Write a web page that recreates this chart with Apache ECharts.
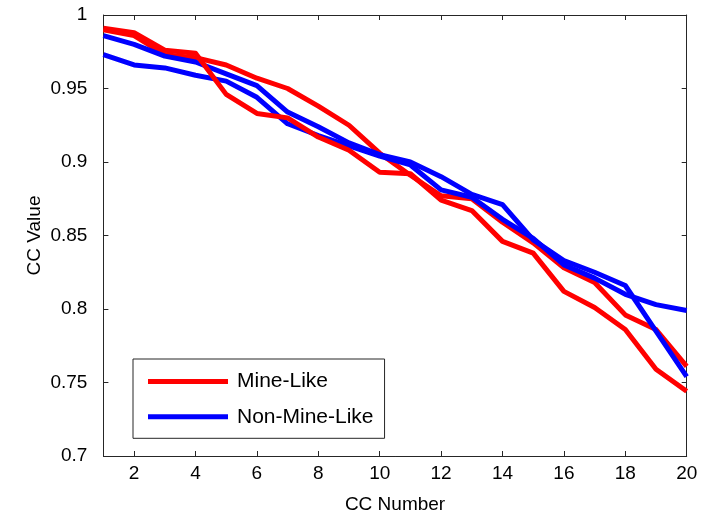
<!DOCTYPE html>
<html>
<head>
<meta charset="utf-8">
<script src="https://cdn.jsdelivr.net/npm/echarts@6/dist/echarts.min.js"></script>
<style>
html,body{margin:0;padding:0;background:#fff;}
#chart{width:701px;height:514px;}
</style>
</head>
<body>
<div id="chart"></div>
<script>
var ccNumbers = [1,2,3,4,5,6,7,8,9,10,11,12,13,14,15,16,17,18,19,20];
var mineLikeA = [0.990,0.986,0.973,0.971,0.966,0.957,0.950,0.938,0.925,0.906,0.891,0.877,0.875,0.859,0.845,0.828,0.818,0.796,0.786,0.761];
var mineLikeB = [0.991,0.988,0.976,0.974,0.946,0.933,0.930,0.917,0.908,0.893,0.892,0.874,0.867,0.846,0.838,0.812,0.801,0.786,0.759,0.744];
var nonMineA  = [0.986,0.980,0.972,0.968,0.960,0.952,0.934,0.924,0.913,0.905,0.900,0.890,0.878,0.871,0.847,0.833,0.825,0.816,0.785,0.754];
var nonMineB  = [0.973,0.966,0.964,0.959,0.955,0.944,0.926,0.918,0.911,0.904,0.898,0.881,0.876,0.861,0.848,0.830,0.821,0.810,0.803,0.799];
var xTicks = [2,4,6,8,10,12,14,16,18,20];
var yTicks = [0.7,0.75,0.8,0.85,0.9,0.95,1];
var seriesNames = ['Mine-Like','Non-Mine-Like'];

function pairs(vals){ return ccNumbers.map(function(x,i){ return [x, vals[i]]; }); }

var axisColor = '#262626';
var font = 'Liberation Sans, Arial, Helvetica, sans-serif';
var chart = echarts.init(document.getElementById('chart'), null, {renderer:'canvas'});
function lineSeries(name, vals, color){
  return {name:name, type:'line', data:pairs(vals), xAxisIndex:0, yAxisIndex:0,
    showSymbol:false, symbol:'none', animation:false,
    lineStyle:{color:color, width:5, join:'round'}, itemStyle:{color:color}};
}
chart.setOption({
  animation:false,
  backgroundColor:'#fff',
  grid:{left:103.4, right:14.3, top:15, bottom:58, containLabel:false, outerBoundsMode:'none'},
  legend:{
    data:seriesNames, orient:'vertical', left:133, top:359,
    padding:[12,11,11,15], itemGap:14.3, itemWidth:80, itemHeight:5, icon:'rect',
    backgroundColor:'#fff', borderColor:axisColor, borderWidth:1, borderRadius:0,
    textStyle:{fontFamily:font, fontSize:21, color:'#000', lineHeight:20, padding:[0,0,0,4]}
  },
  xAxis:[{
    type:'value', min:1, max:20, position:'bottom',
    name:'CC Number', nameLocation:'middle', nameGap:39,
    nameTextStyle:{fontFamily:font, fontSize:19, color:'#000'},
    axisLine:{show:true, onZero:false, lineStyle:{color:axisColor, width:1}},
    axisTick:{show:true, inside:true, length:5, customValues:xTicks, lineStyle:{color:axisColor}},
    axisLabel:{show:true, customValues:xTicks, margin:8, fontFamily:font, fontSize:19, color:'#000'},
    splitLine:{show:false}
  },{
    type:'value', min:1, max:20, position:'top',
    axisLine:{show:true, onZero:false, lineStyle:{color:axisColor, width:1}},
    axisTick:{show:true, inside:true, length:5, customValues:xTicks, lineStyle:{color:axisColor}},
    axisLabel:{show:false}, splitLine:{show:false}
  }],
  yAxis:[{
    type:'value', min:0.7, max:1, interval:0.05, position:'left',
    name:'CC Value', nameLocation:'middle', nameGap:59, nameRotate:90, nameMoveOverlap:false,
    nameTextStyle:{fontFamily:font, fontSize:19, color:'#000'},
    axisLine:{show:true, onZero:false, lineStyle:{color:axisColor, width:1}},
    axisTick:{show:true, inside:true, length:5, customValues:yTicks, lineStyle:{color:axisColor}},
    axisLabel:{show:true, customValues:yTicks, margin:16, fontFamily:font, fontSize:19, color:'#000',
      formatter:function(v){ return String(Math.round(v*100)/100); }},
    splitLine:{show:false}
  },{
    type:'value', min:0.7, max:1, interval:0.05, position:'right',
    axisLine:{show:true, onZero:false, lineStyle:{color:axisColor, width:1}},
    axisTick:{show:true, inside:true, length:5, customValues:yTicks, lineStyle:{color:axisColor}},
    axisLabel:{show:false}, splitLine:{show:false}
  }],
  series:[
    lineSeries(seriesNames[0], mineLikeA, '#ff0000'),
    lineSeries(seriesNames[1], nonMineA, '#0000ff'),
    lineSeries(seriesNames[1], nonMineB, '#0000ff'),
    lineSeries(seriesNames[0], mineLikeB, '#ff0000')
  ]
});
</script>
</body>
</html>
